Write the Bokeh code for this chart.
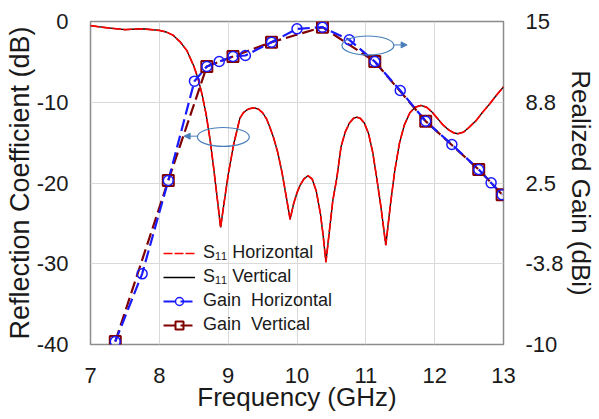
from bokeh.plotting import figure
from bokeh.models import (Range1d, LinearAxis, FixedTicker, Legend, LegendItem,
                          Arrow, NormalHead, CustomJSTickFormatter)
from bokeh.embed import file_html
from bokeh.resources import INLINE

# ---------------- data ----------------
s11_freq = [7.0, 7.25, 7.5, 7.75, 8.0, 8.1, 8.2, 8.3, 8.4, 8.5, 8.56, 8.62, 8.68, 8.74,
            8.79, 8.84, 8.89, 8.94, 9.0, 9.08, 9.17, 9.22, 9.28, 9.33, 9.38, 9.44, 9.5,
            9.56, 9.61, 9.66, 9.72, 9.78, 9.84, 9.9, 9.95, 10.0, 10.05, 10.1, 10.16,
            10.22, 10.28, 10.34, 10.38, 10.42, 10.47, 10.52, 10.58, 10.64, 10.7, 10.76,
            10.82, 10.87, 10.92, 10.98, 11.04, 11.1, 11.16, 11.22, 11.29, 11.36, 11.42,
            11.49, 11.56, 11.64, 11.72, 11.8, 11.88, 11.96, 12.04, 12.12, 12.2, 12.28,
            12.34, 12.42, 12.5, 12.6, 12.7, 12.8, 12.9, 13.0]
s11_horizontal = [-0.5, -0.8, -1.0, -0.9, -1.1, -1.3, -1.7, -2.5, -3.6, -5.5, -7.0, -9.0,
                  -11.5, -14.8, -18.2, -21.8, -25.5, -22.5, -19.0, -15.2, -12.0, -11.3,
                  -10.9, -10.75, -10.7, -10.85, -11.3, -12.1, -13.2, -14.4, -16.2, -18.6,
                  -21.5, -24.5, -22.6, -21.2, -20.2, -19.5, -19.1, -19.5, -21.0, -23.8,
                  -26.5, -29.8, -26.0, -22.2, -19.3, -15.5, -13.7, -12.6, -12.0, -11.85,
                  -12.0, -12.6, -13.9, -16.2, -19.5, -23.0, -27.7, -22.5, -18.5, -15.0,
                  -12.8, -11.3, -10.6, -10.4, -10.6, -11.2, -12.0, -12.8, -13.4, -13.8,
                  -13.9, -13.7, -13.1, -12.3, -11.2, -10.2, -9.1, -8.1]
s11_vertical = list(s11_horizontal)

gain_h_freq = [7.36, 7.75, 8.13, 8.51, 8.69, 8.87, 9.07, 9.25, 9.63, 10.0, 10.37,
               10.76, 11.13, 11.5, 11.87, 12.25, 12.64, 12.82, 12.98]
gain_h = [-9.77, -4.53, 2.69, 10.38, 11.52, 11.9, 12.29, 12.37, 13.4, 14.43, 14.56,
          13.58, 11.9, 9.66, 7.28, 5.48, 3.54, 2.51, 1.6]
gain_v_freq = [7.36, 8.13, 8.69, 9.07, 9.63, 10.37, 11.13, 11.87, 12.64, 12.98]
gain_v = [-9.77, 2.69, 11.52, 12.29, 13.4, 14.56, 11.9, 7.28, 3.54, 1.6]

x_ticks = [7, 8, 9, 10, 11, 12, 13]
x_tick_labels = ["7", "8", "9", "10", "11", "12", "13"]
y_ticks = [-40, -30, -20, -10, 0]
y_tick_labels = ["-40", "-30", "-20", "-10", "0"]
gain_ticks = [-10, -3.75, 2.5, 8.75, 15]
gain_tick_labels = ["-10", "-3.8", "2.5", "8.8", "15"]

# callout ellipses (dB axis) and their arrows
ell_x = [8.93, 11.03]
ell_y = [-14.3, -2.97]
ell_w = [0.754, 0.754]
ell_h = [2.35, 2.35]
arrow_x0 = [8.55, 11.41]
arrow_x1 = [8.36, 11.6]
arrow_y = [-14.2, -2.9]

FONT = "Liberation Sans"
TXT = "#1a1a1a"
CALL = "#4a7ebb"


def fmt(ticks, labels):
    return CustomJSTickFormatter(
        args=dict(gticks=ticks, glabels=labels),
        code="const i = gticks.findIndex(t => Math.abs(t - tick) < 1e-6);"
             " return i >= 0 ? glabels[i] : String(tick);")


p = figure(width=599, height=419, x_range=Range1d(7, 13), y_range=Range1d(-40, 0),
           output_backend="svg", toolbar_location=None,
           min_border_left=90, min_border_right=95, min_border_top=21,
           min_border_bottom=75)
p.extra_y_ranges = {"gain": Range1d(-10, 15)}
p.background_fill_color = "white"
p.border_fill_color = "white"
p.outline_line_color = "#8c8c8c"
p.outline_line_width = 1.5

p.xaxis.ticker = FixedTicker(ticks=x_ticks)
p.yaxis.ticker = FixedTicker(ticks=y_ticks)
p.xaxis.formatter = fmt(x_ticks, x_tick_labels)
p.yaxis.formatter = fmt(y_ticks, y_tick_labels)
p.xgrid.ticker = FixedTicker(ticks=x_ticks)
p.ygrid.ticker = FixedTicker(ticks=y_ticks)
p.grid.grid_line_color = "#d9d9d9"
p.grid.grid_line_width = 1

p.xaxis.axis_label = "Frequency (GHz)"
p.yaxis.axis_label = "Reflection Coefficient (dB)"

right = LinearAxis(y_range_name="gain", axis_label="Realized Gain (dBi)",
                   ticker=FixedTicker(ticks=gain_ticks),
                   formatter=fmt(gain_ticks, gain_tick_labels))
p.add_layout(right, "right")

for ax in [p.xaxis[0], p.yaxis[0], right]:
    ax.axis_line_color = None
    ax.major_tick_line_color = None
    ax.minor_tick_line_color = None
    ax.major_label_text_font = FONT
    ax.major_label_text_font_size = "22px"
    ax.major_label_text_color = TXT
    ax.major_label_standoff = 16
    ax.axis_label_text_font = FONT
    ax.axis_label_text_font_style = "normal"
    ax.axis_label_text_color = TXT
p.xaxis.axis_label_text_font_size = "26px"
p.yaxis.axis_label_text_font_size = "27px"
right.axis_label_text_font_size = "26px"
p.xaxis.major_label_standoff = 17
p.xaxis.axis_label_standoff = -4
p.yaxis.axis_label_standoff = -1
right.axis_label_standoff = 0

# S11 curves
r_v = p.line(s11_freq, s11_vertical, line_color="black", line_width=1.3)
r_h = p.line(s11_freq, s11_horizontal, line_color="#ff0000", line_width=1.7,
             line_dash="9 2")

# gain curves
g_v_line = p.line(gain_v_freq, gain_v, y_range_name="gain", line_color="#800000",
                  line_width=2.2, line_dash="12 5")
g_h_line = p.line(gain_h_freq, gain_h, y_range_name="gain", line_color="#1a1aff",
                  line_width=2.2, line_dash="12 5")
g_v_mark = p.scatter(gain_v_freq, gain_v, y_range_name="gain", marker="square",
                     size=11, line_color="#800000", line_width=2, fill_color=None)
g_h_mark = p.scatter(gain_h_freq, gain_h, y_range_name="gain", marker="circle",
                     size=10, line_color="#1a1aff", line_width=1.5, fill_color=None)

# callouts
p.ellipse(x=ell_x, y=ell_y, width=ell_w, height=ell_h, fill_color=None,
          line_color=CALL, line_width=1.2)
for x0, x1, y in zip(arrow_x0, arrow_x1, arrow_y):
    p.add_layout(Arrow(end=NormalHead(size=6, fill_color=CALL, line_color=CALL),
                       x_start=x0, y_start=y, x_end=x1, y_end=y,
                       line_color=CALL, line_width=1))

legend = Legend(items=[
    LegendItem(label="S\u2081\u2081 Horizontal", renderers=[r_h]),
    LegendItem(label="S\u2081\u2081 Vertical", renderers=[r_v]),
    LegendItem(label="Gain  Horizontal", renderers=[g_h_line, g_h_mark]),
    LegendItem(label="Gain  Vertical", renderers=[g_v_line, g_v_mark]),
], location=(73, 9))
legend.label_text_font = FONT
legend.label_text_font_size = "18px"
legend.label_text_color = TXT
legend.glyph_width = 32
legend.glyph_height = 20
legend.label_height = 20
legend.spacing = 3
legend.padding = 0
legend.margin = 0
legend.label_standoff = 8
legend.border_line_color = None
legend.background_fill_alpha = 0
p.add_layout(legend, "center")

open("out.html", "w").write(file_html(p, INLINE))
